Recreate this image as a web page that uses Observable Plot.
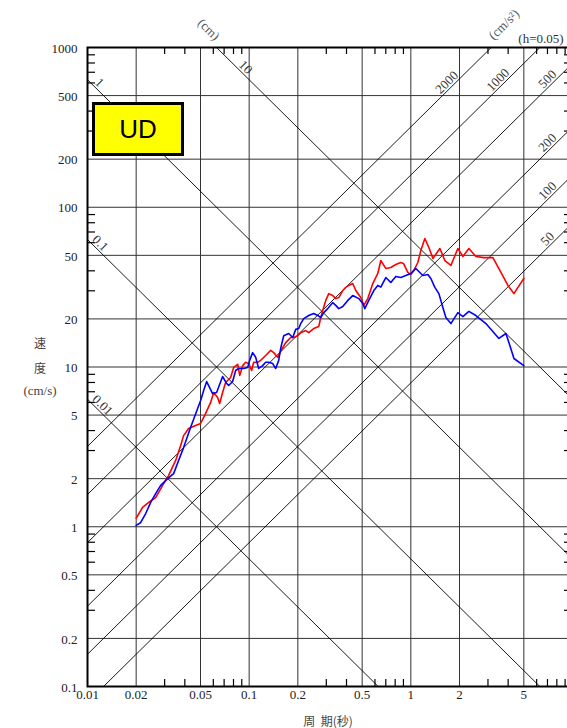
<!DOCTYPE html>
<html><head><meta charset="utf-8">
<script src="https://cdn.jsdelivr.net/npm/d3@7"></script>
<script src="https://cdn.jsdelivr.net/npm/@observablehq/plot@0.6"></script>
<style>
html,body{margin:0;padding:0;background:#fff;overflow:hidden;}
#wrap{position:relative;width:567px;height:728px;overflow:hidden;}
#chart{position:absolute;left:0;top:0;width:600px;}
#chart svg{max-width:none !important;width:600px;height:728px;}
.lab{position:absolute;transform:translate(-50%,-50%);font-size:12px;color:#444;white-space:nowrap;}
.cjk{font-family:"Noto Sans CJK JP",sans-serif;}
.ser{font-family:"Liberation Serif",serif;font-size:13px;}
#ud{position:absolute;left:92px;top:102px;width:92px;height:54px;box-sizing:border-box;border:3px solid #000;background:#ffff00;font-family:"Liberation Sans",Arial,sans-serif;font-size:26px;display:flex;align-items:center;justify-content:center;color:#000;}
</style></head>
<body><div id="wrap"><div id="chart"></div>
<div id="ud">UD</div>
<div class="lab cjk" style="left:40px;top:342px;">速</div>
<div class="lab cjk" style="left:40px;top:367px;">度</div>
<div class="lab ser" style="left:40px;top:391px;">(cm/s)</div>
<div class="lab cjk" style="left:328px;top:720px;">周&nbsp;&nbsp;期(秒)</div>
</div>
<script>
// ---- data ----
const periodTicks = [0.01, 0.02, 0.05, 0.1, 0.2, 0.5, 1, 2, 5, 10];
const velocityTicks = [0.1, 0.2, 0.5, 1, 2, 5, 10, 20, 50, 100, 200, 500, 1000];
const periodDecades = [0.01, 0.1, 1];
const velocityDecades = [0.1, 1, 10, 100];
const minorMultipliers = [3, 4, 6, 7, 8, 9];
const dispValues = [0.01, 0.1, 1, 10];            // cm
const accValues = [50, 100, 200, 500, 1000, 2000]; // cm/s^2

const blueT = [0.020,0.0213,0.0229,0.0246,0.0264,0.0283,0.0313,0.0341,0.0366,0.0393,0.0434,0.0480,0.0501,0.0523,0.0546,0.0594,0.0629,0.0685,0.0726,0.0747,0.0790,0.0825,0.0861,0.0925,0.0979,0.1007,0.1051,0.1097,0.1145,0.1212,0.1265,0.1321,0.1398,0.1459,0.1523,0.1567,0.1636,0.1756,0.1859,0.1941,0.2026,0.2084,0.2176,0.2336,0.2508,0.2656,0.2772,0.2893,0.3063,0.3289,0.3433,0.3583,0.3793,0.4073,0.4374,0.4764,0.5045,0.5191,0.5495,0.5902,0.6248,0.6520,0.7001,0.7518,0.8074,0.8671,0.9312,1.000,1.074,1.121,1.186,1.274,1.330,1.408,1.491,1.578,1.647,1.769,1.954,2.099,2.286,2.526,2.913,3.265,3.506,3.874,4.102,4.343,5.0];
const blueV = [1.02,1.06,1.21,1.42,1.61,1.81,2.00,2.15,2.60,3.13,4.18,5.50,6.17,7.13,8.11,6.82,6.92,8.72,7.88,7.66,8.11,9.51,9.79,9.79,9.93,11.0,12.3,11.5,9.79,10.2,10.7,10.7,10.5,9.79,11.0,13.1,15.7,16.2,15.3,17.2,17.4,18.7,20.1,21.0,21.6,21.0,20.4,21.9,23.2,25.3,24.3,23.2,23.9,26.1,28.0,26.8,25.0,23.2,26.1,30.1,32.4,31.6,36.3,33.8,36.9,36.3,37.4,38.5,41.4,39.6,37.4,37.9,35.8,31.5,28.8,23.6,20.4,18.7,21.9,20.7,22.3,21.0,18.7,16.4,15.1,16.2,13.6,11.3,10.2];
const redT = [0.020,0.0219,0.0239,0.0264,0.0291,0.0317,0.0351,0.0377,0.0393,0.0422,0.0466,0.0501,0.0538,0.0578,0.0603,0.0638,0.0657,0.0685,0.0715,0.0768,0.0802,0.0850,0.0874,0.0912,0.0951,0.0993,0.1036,0.1066,0.1129,0.1178,0.1265,0.1359,0.1418,0.1502,0.1545,0.1613,0.1683,0.1807,0.1886,0.1997,0.2084,0.2238,0.2336,0.2508,0.2694,0.2772,0.2852,0.2977,0.3107,0.3289,0.3433,0.3583,0.3793,0.3959,0.4132,0.4374,0.4565,0.4902,0.5117,0.5417,0.5817,0.6248,0.6520,0.7001,0.7518,0.8074,0.8671,0.900,0.9581,1.000,1.044,1.105,1.153,1.221,1.293,1.369,1.512,1.624,1.769,1.954,2.099,2.286,2.526,2.831,3.219,3.608,3.987,4.343,4.597,5.0];
const redV = [1.13,1.32,1.42,1.52,1.81,2.09,2.60,3.23,3.72,4.12,4.30,4.43,5.12,6.00,6.92,6.44,5.91,6.92,8.00,8.59,9.93,10.4,8.85,10.2,10.7,10.5,9.51,10.7,10.7,11.0,11.8,12.7,12.3,11.5,12.2,13.2,14.2,15.3,15.3,15.7,16.4,16.9,16.4,17.4,17.9,20.4,22.6,26.1,28.8,28.0,26.8,27.2,30.1,31.5,32.4,33.3,30.1,27.2,24.3,26.8,33.3,38.5,46.4,41.4,42.0,43.8,45.1,44.5,39.1,37.9,40.2,45.1,53.6,63.7,56.0,47.8,55.2,46.4,43.2,55.2,49.2,55.2,49.2,48.4,48.4,39.1,32.4,28.8,31.5,35.8];

// ---- derived tables ----
const TAU = 2 * Math.PI;
const Tmin = 0.01, Tmax = 10;
const blue = blueT.map((T, i) => ({T, V: blueV[i]}));
const red = redT.map((T, i) => ({T, V: redV[i]}));
const minorX = periodDecades.flatMap(d => minorMultipliers.map(m => m * d));
const minorY = velocityDecades.flatMap(d => minorMultipliers.map(m => m * d));
const dispLines = dispValues.flatMap(d => [Tmin, Tmax].map(T => ({d, T, V: TAU * d / T})));
const accLines = accValues.flatMap(a => [Tmin, Tmax].map(T => ({a, T, V: a * T / TAU})));
const dispLabelT = {0.01: 0.0124, 0.1: 0.0120, 1: 0.01187, 10: 0.0951};
const accLabelT = {2000: 1.67, 1000: 3.46, 500: 7.0, 200: 7.0, 100: 7.0, 50: 7.0};
const dispLabels = dispValues.map(d => ({label: String(d), T: dispLabelT[d], V: TAU * d / dispLabelT[d]}));
const accLabels = accValues.map(a => ({label: String(a), T: accLabelT[a], V: a * accLabelT[a] / TAU}));

const W = 600, H = 728, mL = 87, mR = 28, mT = 47, mB = 42;
const plotW = W - mL - mR, plotH = H - mT - mB;
const serif = "'Liberation Serif', serif";

const chart = Plot.plot({
  width: W, height: H,
  marginLeft: mL, marginRight: mR, marginTop: mT, marginBottom: mB,
  style: "max-width:none; font-family:'Liberation Serif',serif; font-size:13px; background:white; overflow:visible;",
  x: {type: "log", domain: [Tmin, Tmax], axis: null},
  y: {type: "log", domain: [0.1, 1000], axis: null},
  marks: [
    Plot.ruleX(periodTicks, {stroke: "#333", strokeWidth: 1}),
    Plot.ruleY(velocityTicks, {stroke: "#333", strokeWidth: 1}),
    Plot.line(dispLines, {x: "T", y: "V", z: "d", stroke: "#000", strokeWidth: 0.9, clip: true}),
    Plot.line(accLines, {x: "T", y: "V", z: "a", stroke: "#000", strokeWidth: 0.9, clip: true}),
    Plot.tickX(minorX, {x: d => d, insetTop: plotH - 7, stroke: "#000", strokeWidth: 1.2}),
    Plot.tickX(minorX, {x: d => d, insetBottom: plotH - 7, stroke: "#000", strokeWidth: 1.2}),
    Plot.tickY(minorY, {y: d => d, insetRight: plotW - 8, stroke: "#000", strokeWidth: 1.2}),
    Plot.tickY(minorY, {y: d => d, insetLeft: plotW - 8, stroke: "#000", strokeWidth: 1.2}),
    Plot.text(dispLabels, {x: "T", y: "V", text: "label", rotate: 45, dy: -9, fill: "#333", fontSize: 13, fontFamily: serif}),
    Plot.text(accLabels, {x: "T", y: "V", text: "label", rotate: -45, dy: -9, fill: "#333", fontSize: 13, fontFamily: serif}),
    Plot.text(["(cm)"], {x: 0.0562, y: 1297, text: d => d, rotate: 45, fill: "#555", fontSize: 13, fontFamily: serif}),
    Plot.text(["(cm/s²)"], {x: 3.77, y: 1393, text: d => d, rotate: -45, fill: "#555", fontSize: 13, fontFamily: serif}),
    Plot.text(["(h=0.05)"], {x: 6.38, y: 1138, text: d => d, fill: "#333", fontSize: 13, fontFamily: serif}),
    Plot.line(red, {x: "T", y: "V", stroke: "#ff0000", strokeWidth: 1.6}),
    Plot.line(blue, {x: "T", y: "V", stroke: "#0000ff", strokeWidth: 1.6}),
    Plot.text(periodTicks, {x: d => d, frameAnchor: "bottom", dy: 12, text: d => String(d), fill: "#222", fontSize: 13, fontFamily: serif}),
    Plot.text(velocityTicks, {y: d => d, frameAnchor: "left", dx: -10, dy: 1, textAnchor: "end", text: d => String(d), fill: "#222", fontSize: 13, fontFamily: serif}),
    Plot.frame({stroke: "#000", strokeWidth: 2})
  ]
});
document.getElementById("chart").appendChild(chart);
</script>
</body></html>
